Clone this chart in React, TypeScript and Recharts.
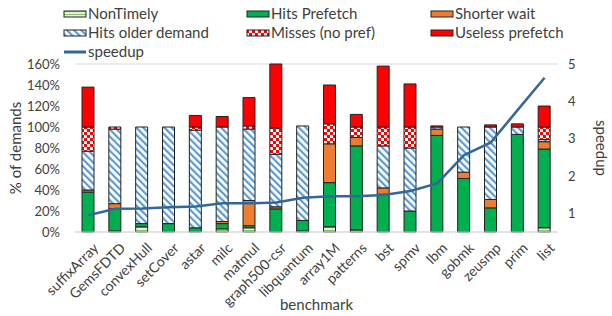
import { ComposedChart, Bar, Line, XAxis, YAxis, CartesianGrid, Label } from 'recharts'

const categories = [
  'suffixArray', 'GemsFDTD', 'convexHull', 'setCover', 'astar', 'milc', 'matmul', 'graph500-csr', 'libquantum',
  'array1M', 'patterns', 'bst', 'spmv', 'lbm', 'gobmk', 'zeusmp', 'prim', 'list',
]
const nonTimely = [0, 1, 5, 0, 0, 3, 4, 0, 1, 5, 2, 0, 0, 0, 0, 0, 0, 4]
const hitsPrefetch = [38, 21, 3, 8, 4, 5, 2, 22, 10, 42, 80, 36, 20, 92, 51, 23, 93, 75]
const shorterWait = [2, 5, 0, 0, 0, 2, 24, 2, 0, 37, 8, 6, 0, 6, 6, 8, 0, 7]
const hitsOlder = [37, 71, 92, 92, 93, 90, 68, 50, 90, 0, 0, 40, 60, 2, 43, 69, 7, 2]
const misses = [23, 2, 0, 0, 3, 0, 3, 25, 0, 19, 10, 18, 20, 0, 0, 0, 0, 12]
const useless = [38, 0, 0, 0, 11, 10, 27, 61, 0, 37, 12, 58, 41, 1, 0, 2, 3, 20]
const speedup = [0.95, 1.12, 1.13, 1.16, 1.18, 1.27, 1.27, 1.29, 1.42, 1.46, 1.46, 1.49, 1.6, 1.8, 2.56, 2.9, 3.77, 4.63]

const leftTicks = [0, 20, 40, 60, 80, 100, 120, 140, 160]
const rightTicks = [0.5, 1, 1.5, 2, 2.5, 3, 3.5, 4, 4.5, 5]

const data = categories.map((name, i) => ({
  name,
  nonTimely: nonTimely[i],
  hitsPrefetch: hitsPrefetch[i],
  shorterWait: shorterWait[i],
  hitsOlder: hitsOlder[i],
  misses: misses[i],
  useless: useless[i],
  speedup: speedup[i],
}))

const font = 'Lato, "Open Sans", sans-serif'
const textColor = '#404040'

function Patterns({ p }: { p: string }) {
  return (
    <defs>
      <pattern id={p + 'nt'} width="4" height="3" patternUnits="userSpaceOnUse">
        <rect width="4" height="3" fill="#e2efd9" />
        <rect y="2" width="4" height="1" fill="#8cbf6a" />
      </pattern>
      <pattern id={p + 'hod'} width="5" height="5" patternUnits="userSpaceOnUse" patternTransform="rotate(-45)">
        <rect width="5" height="5" fill="#fff" />
        <rect width="2.2" height="5" fill="#5b9bd5" />
      </pattern>
      <pattern id={p + 'miss'} width="6" height="6" patternUnits="userSpaceOnUse">
        <rect width="6" height="6" fill="#fff" />
        <rect width="3" height="3" fill="#ff0000" />
        <rect x="3" y="3" width="3" height="3" fill="#ff0000" />
      </pattern>
    </defs>
  )
}

const legendItems = [
  { label: 'NonTimely', fill: 'url(#lgnt)', col: 0, row: 0 },
  { label: 'Hits Prefetch', fill: '#00b050', col: 1, row: 0 },
  { label: 'Shorter wait', fill: '#ed7d31', col: 2, row: 0 },
  { label: 'Hits older demand', fill: 'url(#lghod)', col: 0, row: 1 },
  { label: 'Misses (no pref)', fill: 'url(#lgmiss)', col: 1, row: 1 },
  { label: 'Useless prefetch', fill: '#ff0000', col: 2, row: 1 },
]
const colX = [64, 247, 431]
const rowY = [14, 33, 52]

function TopLegend() {
  return (
    <svg width={612} height={62} style={{ position: 'absolute', left: 0, top: 0, pointerEvents: 'none' }}>
      <Patterns p="lg" />
      {legendItems.map((it) => (
        <g key={it.label}>
          <rect x={colX[it.col]} y={rowY[it.row] - 3} width={22} height={6} fill={it.fill} stroke="#222" strokeWidth={1} />
          <text x={colX[it.col] + 24} y={rowY[it.row]} dy="0.35em" fontSize={15} fill={textColor} fontFamily={font}>
            {it.label}
          </text>
        </g>
      ))}
      <line x1={colX[0]} x2={colX[0] + 22} y1={rowY[2]} y2={rowY[2]} stroke="#33679a" strokeWidth={3} />
      <text x={colX[0] + 24} y={rowY[2]} dy="0.35em" fontSize={15} fill={textColor} fontFamily={font}>
        speedup
      </text>
    </svg>
  )
}

function XTick(props: any) {
  const { x, y, payload } = props
  const tx = x + 4
  const ty = y + 2
  return (
    <text
      x={tx}
      y={ty}
      dy="0.7em"
      transform={`rotate(-45 ${tx} ${ty})`}
      textAnchor="end"
      fontSize={14}
      fill={textColor}
      fontFamily={font}
    >
      {payload.value}
    </text>
  )
}

export default function App() {
  return (
    <div style={{ position: 'absolute', left: 0, top: 0, width: 612, height: 316, background: '#fff' }}>
      <ComposedChart
        width={612}
        height={316}
        data={data}
        margin={{ top: 64, right: 0, left: 0, bottom: 0 }}
        barSize={12}
        style={{ fontFamily: font }}
      >
        <Patterns p="c" />
        <CartesianGrid vertical={false} stroke="#d9d9d9" />
        <XAxis
          dataKey="name"
          interval={0}
          tick={<XTick />}
          tickLine={false}
          axisLine={{ stroke: '#d9d9d9' }}
          height={84}
        >
          <Label value="benchmark" position="insideBottom" offset={6} fontSize={15} fill={textColor} fontFamily={font} />
        </XAxis>
        <YAxis
          yAxisId="left"
          width={75}
          domain={[0, 160]}
          ticks={leftTicks}
          tickFormatter={(v: number) => `${v}%`}
          tickLine={false}
          axisLine={false}
          tickSize={6}
          tickMargin={9}
          tick={{ fontSize: 13, fill: textColor, fontFamily: font }}
        >
          <Label value="% of demands" angle={-90} position="insideLeft" offset={16} fontSize={15} fill={textColor} fontFamily={font} style={{ textAnchor: 'middle' }} />
        </YAxis>
        <YAxis
          yAxisId="right"
          orientation="right"
          width={54}
          domain={[0.5, 5]}
          ticks={rightTicks}
          tickLine={false}
          axisLine={false}
          tickSize={6}
          tickMargin={4}
          tick={{ fontSize: 13, fill: textColor, fontFamily: font }}
        >
          <Label value="speedup" angle={90} position="insideRight" offset={11} fontSize={15} fill={textColor} fontFamily={font} style={{ textAnchor: 'middle' }} />
        </YAxis>
        <Bar yAxisId="left" dataKey="nonTimely" stackId="a" fill="url(#cnt)" stroke="#222" strokeWidth={1} isAnimationActive={false} />
        <Bar yAxisId="left" dataKey="hitsPrefetch" stackId="a" fill="#00b050" stroke="#222" strokeWidth={1} isAnimationActive={false} />
        <Bar yAxisId="left" dataKey="shorterWait" stackId="a" fill="#ed7d31" stroke="#222" strokeWidth={1} isAnimationActive={false} />
        <Bar yAxisId="left" dataKey="hitsOlder" stackId="a" fill="url(#chod)" stroke="#222" strokeWidth={1} isAnimationActive={false} />
        <Bar yAxisId="left" dataKey="misses" stackId="a" fill="url(#cmiss)" stroke="#222" strokeWidth={1} isAnimationActive={false} />
        <Bar yAxisId="left" dataKey="useless" stackId="a" fill="#ff0000" stroke="#222" strokeWidth={1} isAnimationActive={false} />
        <Line yAxisId="right" dataKey="speedup" stroke="#33679a" strokeWidth={2.5} dot={false} isAnimationActive={false} />
      </ComposedChart>
      <TopLegend />
    </div>
  )
}
